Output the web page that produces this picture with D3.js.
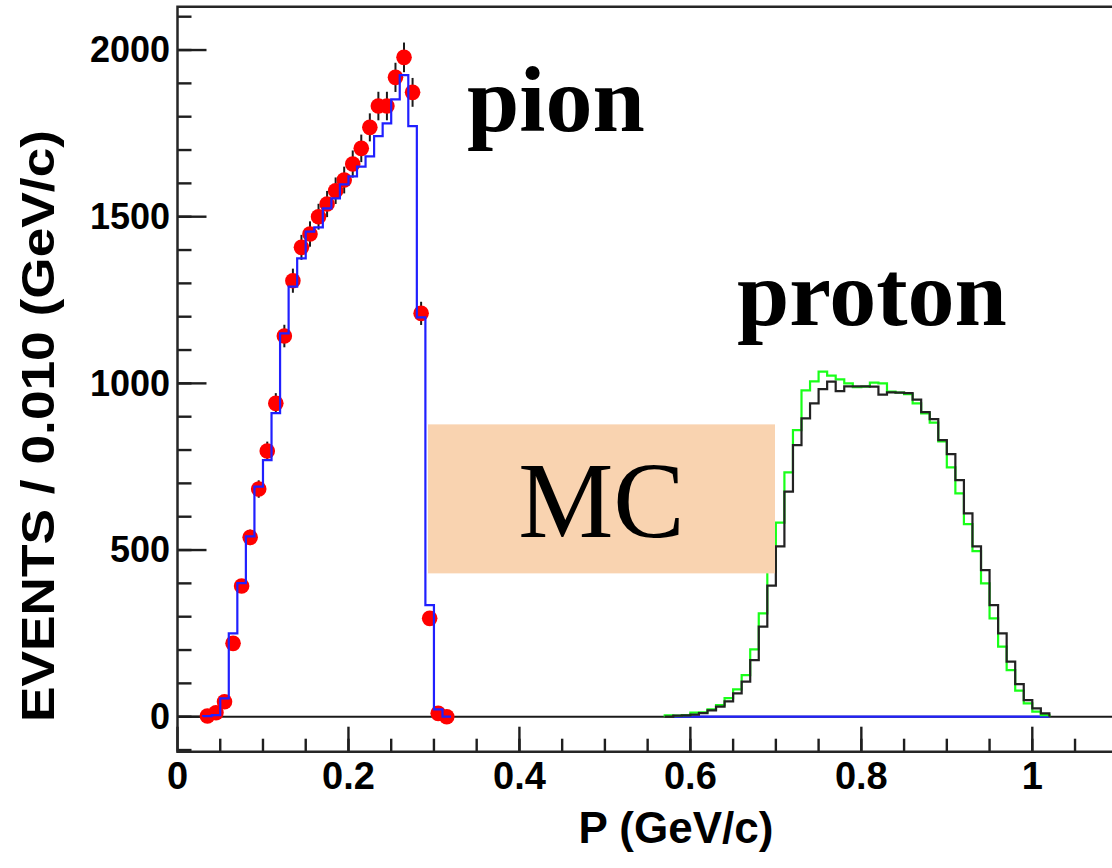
<!doctype html>
<html>

<head>
    <title>
        Momentum distribution
    </title>
    <style>
        body { margin: 0; background: #ffffff; }
    </style>
</head>

<body>
    <script src="https://d3js.org/d3.v7.min.js"></script>
    <script>
    // bin width of every histogram (GeV/c)
    var binWidth = 0.01;

    // pion MC histogram (blue), first bin starts at pionMcStart
    var pionMcStart = 0.03;
    var pionMc = [2, 5, 55, 250, 401, 541, 690, 770, 911, 1150,
        1290, 1375, 1455, 1468, 1525, 1555, 1597, 1621, 1650, 1681,
        1742, 1780, 1852, 1925, 1772, 1198, 335, 22, 0];

    // pion data points (red), one per bin, same binning as the MC
    var pionDataStart = 0.03;
    var pionData = [2, 12, 45, 220, 392, 538, 683, 797, 940, 1142,
        1308, 1408, 1448, 1500, 1538, 1578, 1610, 1658, 1705, 1768,
        1832, 1832, 1918, 1978, 1873, 1210, 295, 10, 0];

    // proton histograms, first bin starts at protonStart
    var protonStart = 0.57;
    var protonBlack = [0, 3, 4, 6, 11, 19, 30, 46, 70, 105,
        170, 270, 393, 511, 675, 815, 895, 940, 983, 1005,
        977, 991, 991, 991, 990, 966, 973, 972, 971, 951,
        914, 893, 830, 788, 710, 610, 511, 440, 335, 250,
        165, 98, 50, 25, 10];
    var protonGreen = [4, 3, 5, 12, 13, 22, 35, 56, 82, 125,
        202, 310, 435, 582, 733, 860, 979, 1006, 1035, 1023,
        1012, 1000, 989, 990, 1002, 1000, 975, 972, 968, 940,
        910, 882, 826, 748, 670, 578, 497, 400, 295, 210,
        140, 78, 40, 15, 5];

    // empty pion MC bins drawn under the proton peak
    var pionMcZeroRange = [0.58, 1.02];

    // axes
    var xDomain = [0, 1.1];
    var yDomain = [-105, 2130];
    var xMajorTicks = [0, 0.2, 0.4, 0.6, 0.8, 1];
    var xMinorTicks = d3.range(1, 23).map(function (i) { return i * 0.05; });
    var yMajorTicks = [0, 500, 1000, 1500, 2000];
    var yMinorTicks = d3.range(-1, 22).map(function (i) { return i * 100; });
    var xTitle = "P (GeV/c)";
    var yTitle = "EVENTS / 0.010 (GeV/c)";

    // annotation box
    var mcBox = { x0: 0.293, x1: 0.699, y0: 430, y1: 877 };

    // plot frame in pixels
    var frame = { left: 177.5, top: 6.7, bottom: 751.7 };
    var pxPerUnit = 854.8;

    var svg = d3.select("body")
        .append("svg")
        .attr("width", 1112)
        .attr("height", 868)

    var x = d3.scaleLinear()
        .domain(xDomain)
        .range([frame.left, frame.left + pxPerUnit * (xDomain[1] - xDomain[0])]);

    var y = d3.scaleLinear()
        .domain(yDomain)
        .range([frame.bottom, frame.top]);

    // build the outline of a step histogram
    function stepPoints(start, values) {
        var pts = [[start, 0]];
        values.forEach(function (v, i) {
            pts.push([start + i * binWidth, v]);
            pts.push([start + (i + 1) * binWidth, v]);
        });
        pts.push([start + values.length * binWidth, 0]);
        return pts;
    }

    var line = d3.line()
        .x(function (d) { return x(d[0]); })
        .y(function (d) { return y(d[1]); });

    // tick marks pointing into the plot, drawn as rectangles
    var tickRects = [];
    yMinorTicks.forEach(function (d) {
        tickRects.push({ x: frame.left, y: y(d) - 1.2, w: 14, h: 2.4 });
    });
    yMajorTicks.forEach(function (d) {
        tickRects.push({ x: frame.left, y: y(d) - 1.2, w: 29, h: 2.4 });
    });
    xMinorTicks.forEach(function (d) {
        tickRects.push({ x: x(d) - 1.2, y: frame.bottom - 13, w: 2.4, h: 13 });
    });
    xMajorTicks.forEach(function (d) {
        tickRects.push({ x: x(d) - 1.2, y: frame.bottom - 25, w: 2.4, h: 25 });
    });

    svg.append("g")
        .selectAll("rect")
        .data(tickRects)
        .join("rect")
        .attr("x", function (d) { return d.x; })
        .attr("y", function (d) { return d.y; })
        .attr("width", function (d) { return d.w; })
        .attr("height", function (d) { return d.h; })
        .attr("fill", "#1e1e1e")

    // zero line
    svg.append("line")
        .attr("x1", x(xDomain[0]))
        .attr("x2", x(xDomain[1]))
        .attr("y1", y(0))
        .attr("y2", y(0))
        .attr("stroke", "#1a1a1a")
        .attr("stroke-width", 2)

    // blue line for the empty pion MC bins
    svg.append("path")
        .attr("d", line([[pionMcZeroRange[0], 0], [pionMcZeroRange[1], 0]]))
        .attr("fill", "none")
        .attr("stroke", "#2020ff")
        .attr("stroke-width", 2.2)

    // proton histograms: green below, black on top
    svg.append("path")
        .attr("d", line(stepPoints(protonStart, protonGreen)))
        .attr("fill", "none")
        .attr("stroke", "#19ff19")
        .attr("stroke-width", 2.2)

    svg.append("path")
        .attr("d", line(stepPoints(protonStart, protonBlack)))
        .attr("fill", "none")
        .attr("stroke", "#222222")
        .attr("stroke-width", 2.2)

    // pion data: error bars then markers
    var points = pionData.map(function (v, i) {
        return { p: pionDataStart + (i + 0.5) * binWidth, v: v };
    });

    svg.append("g")
        .selectAll("line")
        .data(points)
        .join("line")
        .attr("x1", function (d) { return x(d.p); })
        .attr("x2", function (d) { return x(d.p); })
        .attr("y1", function (d) { return y(d.v - Math.sqrt(d.v)); })
        .attr("y2", function (d) { return y(d.v + Math.sqrt(d.v)); })
        .attr("stroke", "#1a1a1a")
        .attr("stroke-width", 2)

    svg.append("g")
        .selectAll("circle")
        .data(points)
        .join("circle")
        .attr("cx", function (d) { return x(d.p); })
        .attr("cy", function (d) { return y(d.v); })
        .attr("r", 7.8)
        .attr("fill", "#ff0000")

    // pion MC histogram
    svg.append("path")
        .attr("d", line(stepPoints(pionMcStart, pionMc)))
        .attr("fill", "none")
        .attr("stroke", "#2020ff")
        .attr("stroke-width", 2.2)

    // MC box
    svg.append("rect")
        .attr("x", x(mcBox.x0))
        .attr("y", y(mcBox.y1))
        .attr("width", x(mcBox.x1) - x(mcBox.x0))
        .attr("height", y(mcBox.y0) - y(mcBox.y1))
        .attr("fill", "#f9d3b0")

    svg.append("text")
        .attr("x", (x(mcBox.x0) + x(mcBox.x1)) / 2)
        .attr("y", 537)
        .attr("text-anchor", "middle")
        .attr("font-family", "Liberation Serif, Times New Roman, serif")
        .attr("font-size", 107)
        .attr("fill", "#000")
        .text("MC")

    // labels for the two peaks
    svg.append("text")
        .attr("x", 467)
        .attr("y", 131)
        .attr("font-family", "Liberation Serif, Times New Roman, serif")
        .attr("font-weight", "bold")
        .attr("font-size", 94)
        .attr("fill", "#000")
        .text("pion")

    svg.append("text")
        .attr("x", 737)
        .attr("y", 325)
        .attr("font-family", "Liberation Serif, Times New Roman, serif")
        .attr("font-weight", "bold")
        .attr("font-size", 94)
        .attr("fill", "#000")
        .text("proton")

    // frame: top, left and bottom lines
    var framePath = d3.path();
    framePath.moveTo(1112, frame.top);
    framePath.lineTo(frame.left, frame.top);
    framePath.lineTo(frame.left, frame.bottom);
    framePath.lineTo(1112, frame.bottom);

    svg.append("path")
        .attr("d", framePath.toString())
        .attr("fill", "none")
        .attr("stroke", "#262626")
        .attr("stroke-width", 2.5)

    // tick labels
    svg.append("g")
        .selectAll("text")
        .data(yMajorTicks)
        .join("text")
        .attr("x", frame.left - 7.5)
        .attr("y", function (d) { return y(d); })
        .attr("dy", "0.34em")
        .attr("text-anchor", "end")
        .attr("font-family", "Liberation Sans, Arial, sans-serif")
        .attr("font-weight", "bold")
        .attr("font-size", 36)
        .attr("fill", "#000")
        .text(d3.format("d"))

    svg.append("g")
        .selectAll("text")
        .data(xMajorTicks)
        .join("text")
        .attr("x", function (d) { return x(d); })
        .attr("y", 789)
        .attr("text-anchor", "middle")
        .attr("font-family", "Liberation Sans, Arial, sans-serif")
        .attr("font-weight", "bold")
        .attr("font-size", 38)
        .attr("fill", "#000")
        .text(d3.format("~g"))

    // axis titles
    svg.append("text")
        .attr("x", 676)
        .attr("y", 843)
        .attr("text-anchor", "middle")
        .attr("font-family", "Liberation Sans, Arial, sans-serif")
        .attr("font-weight", "bold")
        .attr("font-size", 44)
        .attr("fill", "#000")
        .text(xTitle)

    svg.append("text")
        .attr("transform", "translate(54,426) rotate(-90)")
        .attr("text-anchor", "middle")
        .attr("font-family", "Liberation Sans, Arial, sans-serif")
        .attr("font-weight", "bold")
        .attr("font-size", 47)
        .attr("textLength", 592)
        .attr("lengthAdjust", "spacingAndGlyphs")
        .attr("fill", "#000")
        .text(yTitle)
    </script>
</body>

</html>
